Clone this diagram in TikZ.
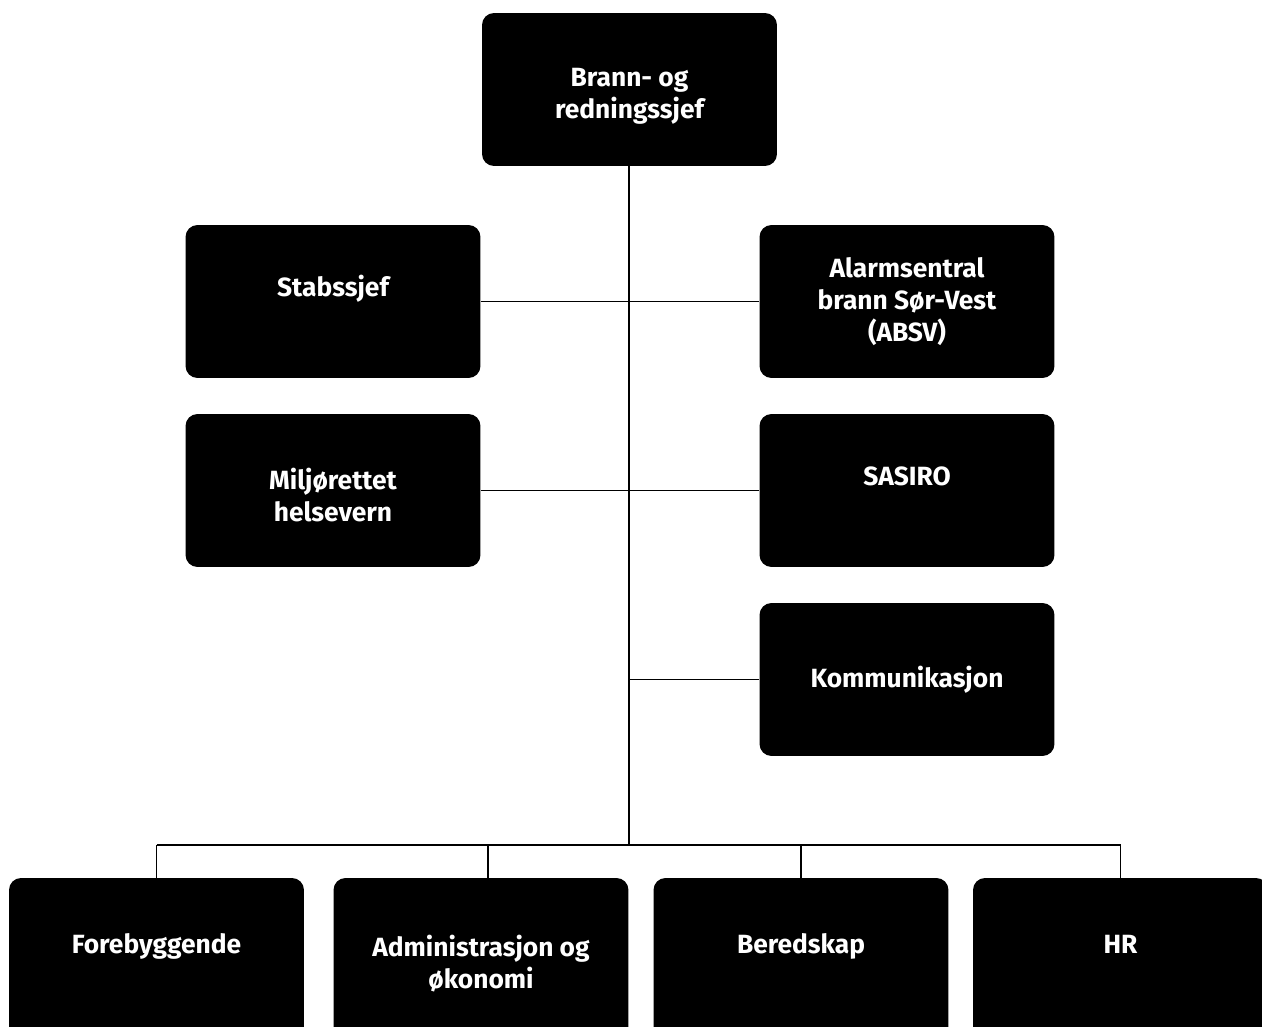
\documentclass[tikz,border=0pt]{standalone}
\usepackage{fontspec}
\setmainfont{Fira Sans}
\usepackage{tikz}

% empty first line, nudges the text a little down in its box
\newcommand{\padtop}{\mbox{}\\[-0.5pt]}

\begin{document}
\begin{tikzpicture}[
        x=0.02cm, y=-0.02cm,
        every node/.style={font=\bfseries\fontsize{15}{18.2}\selectfont},
        unit/.style={rectangle, fill=black, text=white, rounded corners=0.24cm, minimum width=5.9cm, minimum height=3.06cm, align=center, inner sep=0pt},
        lowunit/.style={unit, minimum height=3.24cm},
        line/.style={line width=0.8pt}
        ]
        \useasboundingbox (0,0) rectangle (1262,1027);

        % Top of the organisation
        \node[unit] (Chief) at (629.5, 89.5) {\padtop Brann- og\\redningssjef};

        % Staff units, left and right of the spine
        \node[unit] (Staff) at (333, 301.5) {\padtop Stabssjef\\\strut};
        \node[unit] (Alarm) at (907, 301.5) {Alarmsentral\\brann Sør-Vest\\(ABSV)};
        \node[unit] (Env) at (333, 490.5) {\padtop Miljørettet\\helsevern};
        \node[unit] (Sasiro) at (907, 490.5) {\padtop SASIRO\\\strut};
        \node[unit] (Comm) at (907, 679.5) {Kommunikasjon};

        % Departments at the bottom
        \node[lowunit] (Prev) at (156.5, 959) {\padtop Forebyggende\\\strut};
        \node[lowunit] (Admin) at (481, 959) {\padtop Administrasjon og\\økonomi};
        \node[lowunit] (Ready) at (801, 959) {\padtop Beredskap\\\strut};
        \node[lowunit] (HR) at (1120.5, 959) {\padtop HR\\\strut};

        % Spine and bus
        \coordinate (Bus) at (629, 845);
        \coordinate (AdminDrop) at (488, 878);
        \draw[line] (Chief.south -| Bus) -- (Bus);
        \draw[line] (Staff.east) -- (Alarm.west);
        \draw[line] (Env.east) -- (Sasiro.west);
        \draw[line] (Comm.west) -- (Comm.west -| Bus);
        \draw[line] (Bus -| Prev.north) -- (Bus -| HR.north);

        % Drops to the departments
        \draw[line] (Bus -| Prev.north) -- (Prev.north);
        \draw[line] (Bus -| AdminDrop) -- (AdminDrop);
        \draw[line] (Bus -| Ready.north) -- (Ready.north);
        \draw[line] (Bus -| HR.north) -- (HR.north);

    \end{tikzpicture}
\end{document}
